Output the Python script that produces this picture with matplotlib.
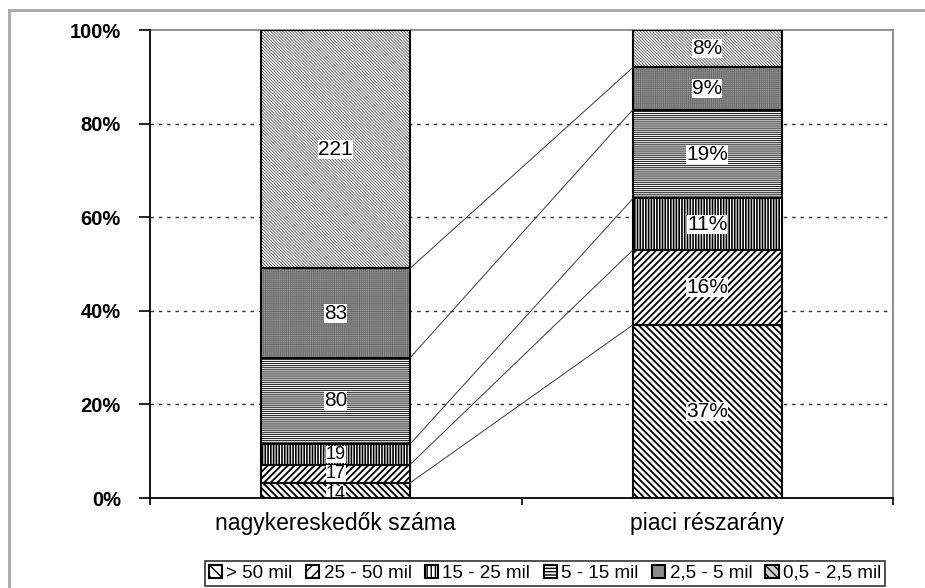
import matplotlib
matplotlib.use('Agg')
import numpy as np
import matplotlib.pyplot as plt
from matplotlib.patches import Patch
from matplotlib.lines import Line2D
from matplotlib.transforms import offset_copy

plt.rcParams['font.family'] = ['Liberation Sans', 'DejaVu Sans']

# size classes (annual turnover) and the two stacked columns
categories = ['nagykereskedők száma', 'piaci részarány']
size_classes = ['> 50 mil', '25 - 50 mil', '15 - 25 mil', '5 - 15 mil', '2,5 - 5 mil', '0,5 - 2,5 mil']
wholesaler_counts = [14, 17, 19, 80, 83, 221]
market_share = [37, 16, 11, 19, 9, 8]
y_ticks = [0, 20, 40, 60, 80, 100]

# fill style per size class: face colour, hatch, hatch colour, hatch width
styles = [
    ('white', '\\' * 5, 'black', 1.3),
    ('white', '/' * 5, 'black', 1.3),
    ('white', '|' * 6, 'black', 1.2),
    ('white', '-' * 8, '#2a2a2a', 0.8),
    ('#959595', '+' * 8, '#6e6e6e', 0.5),
    ('white', '\\' * 11, '#555555', 0.6),
]

counts = np.array(wholesaler_counts, dtype=float)
left_pct = counts / counts.sum() * 100
right_pct = np.array(market_share, dtype=float)
columns = [(left_pct, [str(v) for v in wholesaler_counts]),
           (right_pct, ['%d%%' % v for v in market_share])]

fig = plt.figure(figsize=(9.25, 5.88), dpi=100)
ax = fig.add_axes([150 / 925, 1 - 498 / 588, 743 / 925, 468 / 588])

width = 0.4
for xi, (vals, labels) in enumerate(columns):
    bottom = 0.0
    for i, v in enumerate(vals):
        face, hatch, hc, hlw = styles[i]
        with plt.rc_context({'hatch.linewidth': hlw}):
            b = ax.bar(xi, v, width, bottom=bottom, color=face, hatch=hatch,
                       edgecolor=hc, linewidth=0, zorder=2)
        for p in b:
            if hasattr(p, 'set_hatch_linewidth'):
                p.set_hatch_linewidth(hlw)
        ax.bar(xi, v, width, bottom=bottom, fill=False, edgecolor='black',
               linewidth=1.5, zorder=3)
        # thin segments get a slightly smaller label; the lowest one sits on the axis
        small = v < 6
        tr = ax.transData
        if small and i == 0:
            tr = offset_copy(ax.transData, fig=fig, y=-3, units='points')
        ax.text(xi, bottom + v / 2, labels[i], ha='center', va='center',
                fontsize=13 if small else 15, transform=tr,
                zorder=5, clip_on=False,
                bbox=dict(facecolor='white', edgecolor='none', pad=0.0))
        bottom += v

# connector lines between the segment boundaries of the two columns
cum_l = np.cumsum(left_pct)[:-1]
cum_r = np.cumsum(right_pct)[:-1]
for a, b in zip(cum_l, cum_r):
    ax.plot([width / 2, 1 - width / 2], [a, b], color='#3a3a3a', lw=0.7, zorder=4)

ax.set_xlim(-0.5, 1.5)
ax.set_ylim(0, 100)
ax.set_yticks(y_ticks)
ax.set_yticklabels(['%d%%' % t for t in y_ticks], fontweight='bold', fontsize=14.5)
ax.set_xticks([0, 1])
ax.set_xticklabels(categories, fontsize=16.5)
ax.tick_params(axis='x', length=0, pad=10)
ax.set_xticks([-0.5, 0.5, 1.5], minor=True)
ax.tick_params(axis='x', which='minor', length=5, width=1.2, direction='out')
ax.tick_params(axis='y', length=8, width=1.2, direction='out', pad=13)

for t in [20, 40, 60, 80]:
    ax.axhline(t, color='#333333', lw=1.0, ls=(0, (2.5, 3.5)), zorder=1)

for side in ['left', 'bottom']:
    ax.spines[side].set_color('black')
    ax.spines[side].set_linewidth(1.3)
    ax.spines[side].set_zorder(6)
for side in ['top', 'right']:
    ax.spines[side].set_color('#8a8a8a')
    ax.spines[side].set_linewidth(1.3)

# outer frame (left and top edges)
fig.add_artist(Line2D([9 / 925, 9 / 925], [0, 1 - 10 / 588], transform=fig.transFigure,
                      color='#a8a8a8', lw=2))
fig.add_artist(Line2D([9 / 925, 1], [1 - 10 / 588, 1 - 10 / 588], transform=fig.transFigure,
                      color='#a8a8a8', lw=2))

# legend swatches: coarser hatches so they read at small size
legend_fills = ['white', 'white', 'white', 'white', '#8a8a8a', '#d0d0d0']
legend_hatches = ['\\\\\\', '///', '||||', '-----', '', '\\\\\\\\']
handles = [Patch(facecolor=f, hatch=h, edgecolor='black', linewidth=1.5)
           for f, h in zip(legend_fills, legend_hatches)]
leg = fig.legend(handles, size_classes, loc='lower center', bbox_to_anchor=(545 / 925, 0.004),
                 ncol=6, fontsize=13.5, frameon=True, fancybox=False, edgecolor='black',
                 handlelength=0.7, handleheight=0.7, handletextpad=0.25,
                 columnspacing=0.7, borderpad=0.2, borderaxespad=0)
leg.get_frame().set_linewidth(1.2)

fig.savefig('out.png', dpi=100)
